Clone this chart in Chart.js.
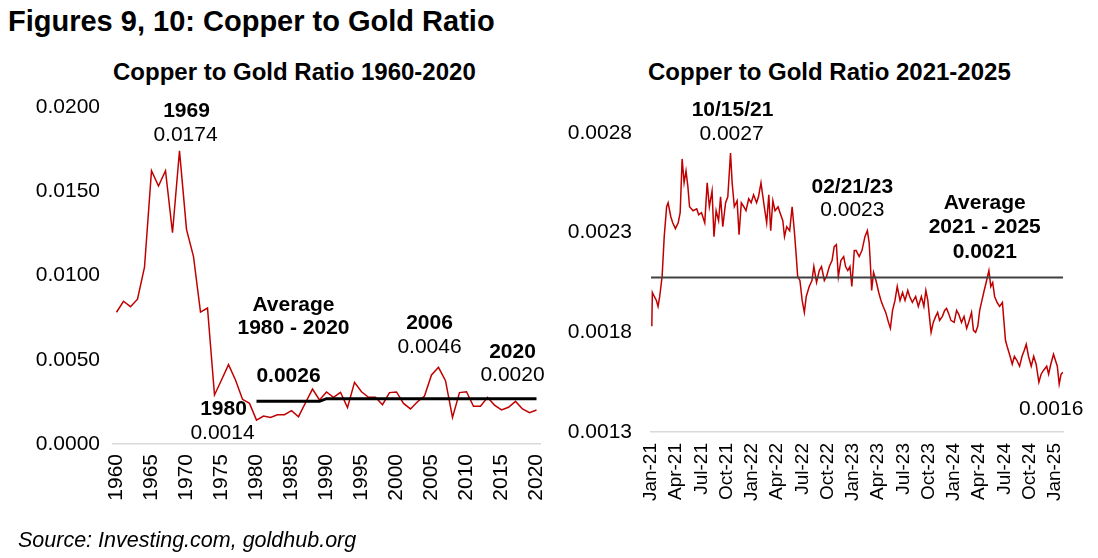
<!DOCTYPE html>
<html>
<head>
<meta charset="utf-8">
<script src="https://cdn.jsdelivr.net/npm/chart.js@4.4.1/dist/chart.umd.min.js"></script>
<style>
  body { margin: 0; background: #fff; }
  #page { position: relative; width: 1098px; height: 558px; overflow: hidden;
          font-family: "Liberation Sans", Arial, sans-serif; color: #000; }
  .t { position: absolute; white-space: nowrap; line-height: 1.15; }
  canvas { position: absolute; top: 0; }
</style>
</head>
<body>
<div id="page">
  <div class="t" style="left:8px;top:5px;font-size:29px;font-weight:bold;">Figures 9, 10: Copper to Gold Ratio</div>
  <div class="t" style="left:113px;top:58px;font-size:24px;font-weight:bold;">Copper to Gold Ratio 1960-2020</div>
  <div class="t" style="left:648px;top:58px;font-size:24px;font-weight:bold;">Copper to Gold Ratio 2021-2025</div>
  <canvas id="leftChart" width="549" height="558" style="left:0px"></canvas>
  <canvas id="rightChart" width="549" height="558" style="left:549px"></canvas>
  <div class="t" style="left:18px;top:528px;font-size:21.5px;font-style:italic;">Source: Investing.com, goldhub.org</div>
</div>

<script>
// ---- data: yearly copper/gold ratio 1960-2020 ----
const years = Array.from({ length: 61 }, (_, i) => 1960 + i);
const ratioYearly = [
  0.00782, 0.00847, 0.00815, 0.00859, 0.01049, 0.01622, 0.01531, 0.01622, 0.01254, 0.01740,
  0.01274, 0.01112, 0.00783, 0.00807, 0.00291, 0.00380, 0.00471, 0.00380, 0.00265, 0.00241,
  0.00142, 0.00166, 0.00158, 0.00174, 0.00174, 0.00198, 0.00162, 0.00245, 0.00326, 0.00261,
  0.00309, 0.00277, 0.00307, 0.00216, 0.00366, 0.00310, 0.00277, 0.00277, 0.00233, 0.00305,
  0.00309, 0.00241, 0.00208, 0.00251, 0.00285, 0.00410, 0.00455, 0.00376, 0.00158, 0.00305,
  0.00310, 0.00224, 0.00224, 0.00277, 0.00231, 0.00202, 0.00218, 0.00253, 0.00208, 0.00186,
  0.00202
];
// running average drawn from 1980 (null before)
const avgYearly = years.map(y => y < 1980 ? null : (y < 1990 ? 0.00253 : 0.00269));
const leftYTicks = [0, 0.005, 0.010, 0.015, 0.020];

// ---- data: copper/gold ratio 2021-2025 ----
const ratioDates = [
  '2021-01-04','2021-01-06','2021-01-13','2021-01-21','2021-01-27','2021-02-02','2021-02-10','2021-02-17','2021-02-25','2021-03-02',
  '2021-03-12','2021-03-19','2021-03-29','2021-04-08','2021-04-15','2021-04-22','2021-04-29','2021-05-06','2021-05-13','2021-05-19',
  '2021-06-01','2021-06-14','2021-06-21','2021-07-01','2021-07-13','2021-07-22','2021-07-30','2021-08-09','2021-08-16','2021-08-24',
  '2021-09-02','2021-09-09','2021-09-17','2021-09-27','2021-10-05','2021-10-15','2021-10-21','2021-10-29','2021-11-08','2021-11-15',
  '2021-11-23','2021-12-02','2021-12-10','2021-12-20','2021-12-29','2022-01-07','2022-01-18','2022-01-25','2022-02-03','2022-02-14',
  '2022-02-22','2022-03-01','2022-03-08','2022-03-16','2022-03-24','2022-04-04','2022-04-11','2022-04-21','2022-04-27','2022-05-05',
  '2022-05-16','2022-05-25','2022-06-02','2022-06-08','2022-06-14','2022-06-22','2022-06-30','2022-07-08','2022-07-15','2022-07-26',
  '2022-08-05','2022-08-12','2022-08-22','2022-09-01','2022-09-09','2022-09-19','2022-09-27','2022-10-07','2022-10-17','2022-10-25',
  '2022-11-02','2022-11-09','2022-11-18','2022-11-28','2022-12-05','2022-12-13','2022-12-21','2022-12-28','2023-01-06','2023-01-13',
  '2023-01-24','2023-02-03','2023-02-13','2023-02-21','2023-02-27','2023-03-03','2023-03-08','2023-03-15','2023-03-24','2023-04-03',
  '2023-04-11','2023-04-19','2023-04-28','2023-05-08','2023-05-15','2023-05-23','2023-06-01','2023-06-09','2023-06-19','2023-06-28',
  '2023-07-07','2023-07-17','2023-07-24','2023-08-03','2023-08-15','2023-08-25','2023-09-05','2023-09-14','2023-09-21','2023-09-28',
  '2023-10-06','2023-10-10','2023-10-18','2023-10-27','2023-11-03','2023-11-10','2023-11-20','2023-11-28','2023-12-05','2023-12-14',
  '2023-12-21','2024-01-02','2024-01-11','2024-01-19','2024-01-29','2024-02-07','2024-02-16','2024-02-23','2024-03-04','2024-03-11',
  '2024-03-19','2024-03-27','2024-04-03','2024-04-11','2024-04-19','2024-04-26','2024-05-06','2024-05-13','2024-05-20','2024-05-27',
  '2024-06-05','2024-06-14','2024-06-24','2024-06-28','2024-07-05','2024-07-11','2024-07-22','2024-07-30','2024-08-07','2024-08-16',
  '2024-08-26','2024-09-04','2024-09-12','2024-09-19','2024-09-27','2024-10-07','2024-10-16','2024-10-25','2024-11-04','2024-11-12',
  '2024-11-21','2024-12-02','2024-12-09','2024-12-17','2024-12-27','2025-01-03','2025-01-10','2025-01-17','2025-01-24','2025-01-31'
];
const ratioDaily = [
  0.00183, 0.00200, 0.00198, 0.00196, 0.00193, 0.00198, 0.00208, 0.00228, 0.00243, 0.00245,
  0.00238, 0.00235, 0.00232, 0.00235, 0.00240, 0.00267, 0.00255, 0.00261, 0.00253, 0.00243,
  0.00241, 0.00242, 0.00239, 0.00240, 0.00235, 0.00255, 0.00243, 0.00251, 0.00228, 0.00241,
  0.00236, 0.00248, 0.00233, 0.00245, 0.00248, 0.00270, 0.00255, 0.00243, 0.00246, 0.00229,
  0.00245, 0.00243, 0.00241, 0.00247, 0.00245, 0.00249, 0.00245, 0.00248, 0.00255, 0.00243,
  0.00235, 0.00249, 0.00231, 0.00246, 0.00241, 0.00243, 0.00240, 0.00236, 0.00228, 0.00233,
  0.00231, 0.00243, 0.00231, 0.00220, 0.00208, 0.00206, 0.00196, 0.00190, 0.00198, 0.00203,
  0.00206, 0.00213, 0.00205, 0.00211, 0.00213, 0.00206, 0.00208, 0.00213, 0.00216, 0.00223,
  0.00224, 0.00208, 0.00216, 0.00218, 0.00213, 0.00211, 0.00213, 0.00203, 0.00221, 0.00221,
  0.00218, 0.00221, 0.00228, 0.00231, 0.00225, 0.00215, 0.00201, 0.00210, 0.00206, 0.00200,
  0.00196, 0.00193, 0.00190, 0.00185, 0.00182, 0.00191, 0.00196, 0.00203, 0.00196, 0.00200,
  0.00196, 0.00201, 0.00198, 0.00195, 0.00198, 0.00193, 0.00198, 0.00193, 0.00201, 0.00196,
  0.00185, 0.00180, 0.00185, 0.00188, 0.00190, 0.00186, 0.00188, 0.00191, 0.00192, 0.00189,
  0.00186, 0.00185, 0.00191, 0.00189, 0.00185, 0.00188, 0.00182, 0.00185, 0.00190, 0.00181,
  0.00180, 0.00183, 0.00191, 0.00196, 0.00201, 0.00205, 0.00211, 0.00203, 0.00205, 0.00198,
  0.00195, 0.00193, 0.00195, 0.00188, 0.00176, 0.00173, 0.00168, 0.00164, 0.00168, 0.00166,
  0.00163, 0.00168, 0.00171, 0.00174, 0.00168, 0.00163, 0.00168, 0.00164, 0.00155, 0.00159,
  0.00161, 0.00163, 0.00159, 0.00164, 0.00169, 0.00166, 0.00163, 0.00154, 0.00159, 0.00160
];
const avgRecent = 0.002075;
const quarterLabels = ['Jan-21','Apr-21','Jul-21','Oct-21','Jan-22','Apr-22','Jul-22','Oct-22',
  'Jan-23','Apr-23','Jul-23','Oct-23','Jan-24','Apr-24','Jul-24','Oct-24','Jan-25'];
const rightYTicks = [0.0013, 0.0018, 0.0023, 0.0028];

const RED = '#c00000';
const FONT = '"Liberation Sans", Arial, sans-serif';

// months since 1 Jan 2021 (fractional)
function monthsOf(s) {
  const [y, m, d] = s.split('-').map(Number);
  const dim = new Date(y, m, 0).getDate();
  return (y - 2021) * 12 + (m - 1) + (d - 1) / dim;
}

// keep the x axis box fixed so the plot area lands where the reference has it
function fixX(h) {
  return s => { s.height = h; s.paddingLeft = 0; s.paddingRight = 0; };
}

// text notes next to marks
function notesPlugin(notes, anchor) {
  return {
    id: 'notes',
    afterDatasetsDraw(chart) {
      const ctx = chart.ctx;
      ctx.save();
      ctx.fillStyle = '#000';
      ctx.textAlign = 'center';
      ctx.textBaseline = 'middle';
      notes.forEach(n => {
        const p = anchor(chart, n.at);
        ctx.font = (n.bold ? 'bold ' : '') + '21px ' + FONT;
        ctx.fillText(n.text, p.x + n.dx, p.y + n.dy);
      });
      ctx.restore();
    }
  };
}

// ---------- left chart ----------
const leftNotes = [
  { text: '1969', at: 1969, dx: 7, dy: -40, bold: true },
  { text: '0.0174', at: 1969, dx: 6, dy: -16 },
  { text: '1980', at: 1980, dx: -33, dy: -11, bold: true },
  { text: '0.0014', at: 1980, dx: -34, dy: 13 },
  { text: '2006', at: 2006, dx: -9, dy: -44, bold: true },
  { text: '0.0046', at: 2006, dx: -9, dy: -20 },
  { text: '2020', at: 2020, dx: -24, dy: -58, bold: true },
  { text: '0.0020', at: 2020, dx: -24, dy: -35 },
  { text: 'Average', at: 'avg1985', dx: 2, dy: -96, bold: true },
  { text: '1980 - 2020', at: 'avg1985', dx: 2, dy: -73, bold: true },
  { text: '0.0026', at: 'avg1985', dx: -3, dy: -25, bold: true }
];

new Chart(document.getElementById('leftChart'), {
  type: 'line',
  data: {
    labels: years,
    datasets: [
      { data: avgYearly, borderColor: '#000', borderWidth: 3, pointRadius: 0, tension: 0, spanGaps: false },
      { data: ratioYearly, borderColor: RED, borderWidth: 1.5, pointRadius: 0, tension: 0 }
    ]
  },
  options: {
    responsive: false,
    animation: false,
    layout: { padding: { left: 0, top: 107, right: 9, bottom: 14 } },
    plugins: { legend: { display: false }, tooltip: { enabled: false } },
    scales: {
      x: {
        type: 'category',
        offset: true,
        grid: { display: false, drawTicks: false },
        border: { display: true, color: '#d9d9d9', width: 1.5 },
        ticks: {
          autoSkip: false, minRotation: 90, maxRotation: 90, padding: 10,
          color: '#000', font: { family: FONT, size: 21 },
          callback: (v, i) => years[i] % 5 === 0 ? String(years[i]) : ''
        },
        afterFit: fixX(100)
      },
      y: {
        min: 0, max: 0.02,
        grid: { display: false, drawTicks: false },
        border: { display: false },
        afterBuildTicks: s => { s.ticks = leftYTicks.map(v => ({ value: v })); },
        ticks: { padding: 13, color: '#000', font: { family: FONT, size: 21 },
                 callback: v => v.toFixed(4) },
        afterFit: s => { s.width = 113; }
      }
    }
  },
  plugins: [notesPlugin(leftNotes, (chart, at) => {
    if (at === 'avg1985') {
      const i = years.indexOf(1985);
      return { x: chart.scales.x.getPixelForValue(i), y: chart.scales.y.getPixelForValue(avgYearly[i]) };
    }
    const i = years.indexOf(at);
    return { x: chart.scales.x.getPixelForValue(i), y: chart.scales.y.getPixelForValue(ratioYearly[i]) };
  })]
});

// ---------- right chart ----------
const rightPoints = ratioDates.map((d, i) => ({ x: monthsOf(d), y: ratioDaily[i] }));
const xMax = monthsOf(ratioDates[ratioDates.length - 1]);
const avgPoints = [{ x: 0, y: avgRecent }, { x: xMax, y: avgRecent }];

const rightNotes = [
  { text: '10/15/21', at: '2021-10-15', dx: 2, dy: -43, bold: true },
  { text: '0.0027', at: '2021-10-15', dx: 1, dy: -19 },
  { text: '02/21/23', at: '2023-02-21', dx: -15, dy: -43, bold: true },
  { text: '0.0023', at: '2023-02-21', dx: -15, dy: -20 },
  { text: 'Average', at: 'avg', dx: 0, dy: -74, bold: true },
  { text: '2021 - 2025', at: 'avg', dx: 0, dy: -50, bold: true },
  { text: '0.0021', at: 'avg', dx: 0, dy: -25, bold: true },
  { text: '0.0016', at: '2025-01-17', dx: -8, dy: 25 }
];

new Chart(document.getElementById('rightChart'), {
  type: 'line',
  data: {
    datasets: [
      { data: avgPoints, borderColor: '#404040', borderWidth: 2, pointRadius: 0, tension: 0 },
      { data: rightPoints, borderColor: RED, borderWidth: 1.5, pointRadius: 0, tension: 0 }
    ]
  },
  options: {
    responsive: false,
    animation: false,
    layout: { padding: { left: 0, top: 133, right: 35, bottom: 26 } },
    plugins: { legend: { display: false }, tooltip: { enabled: false } },
    scales: {
      x: {
        type: 'linear', min: 0, max: xMax,
        grid: { display: false, drawTicks: false },
        border: { display: true, color: '#d9d9d9', width: 1.5 },
        afterBuildTicks: s => { s.ticks = quarterLabels.map((_, i) => ({ value: i * 3 })); },
        ticks: {
          autoSkip: false, minRotation: 90, maxRotation: 90, padding: 11,
          color: '#000', font: { family: FONT, size: 19 },
          callback: v => quarterLabels[Math.round(v / 3)]
        },
        afterFit: fixX(100)
      },
      y: {
        min: 0.0013, max: 0.0028,
        grid: { display: false, drawTicks: false },
        border: { display: false },
        afterBuildTicks: s => { s.ticks = rightYTicks.map(v => ({ value: v })); },
        ticks: { padding: 19, color: '#000', font: { family: FONT, size: 21 },
                 callback: v => v.toFixed(4) },
        afterFit: s => { s.width = 102; }
      }
    }
  },
  plugins: [notesPlugin(rightNotes, (chart, at) => {
    if (at === 'avg') {
      return { x: chart.scales.x.getPixelForValue(monthsOf('2024-04-21')), y: chart.scales.y.getPixelForValue(avgRecent) };
    }
    const i = ratioDates.indexOf(at);
    return { x: chart.scales.x.getPixelForValue(rightPoints[i].x), y: chart.scales.y.getPixelForValue(ratioDaily[i]) };
  })]
});
</script>
</body>
</html>
